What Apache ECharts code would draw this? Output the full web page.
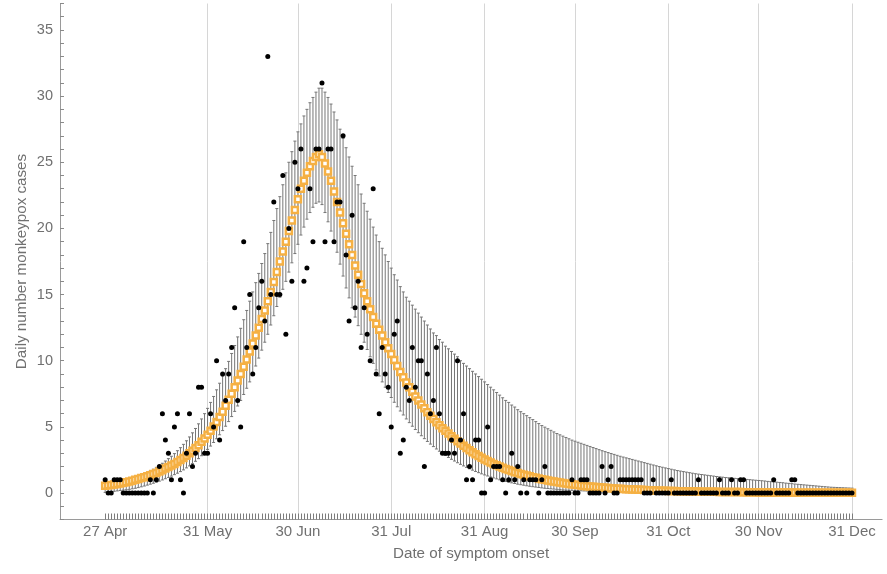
<!DOCTYPE html>
<html><head><meta charset="utf-8">
<script src="https://cdn.jsdelivr.net/npm/echarts@6/dist/echarts.min.js"></script>
<style>html,body{margin:0;padding:0;background:#fff}#c{width:887px;height:574px}</style>
</head><body><div id="c"></div>
<script>
// day 0 = 27 Apr 2022
const tickDays = [0, 34, 64, 95, 126, 156, 187, 217, 248];
const tickLabels = ['27 Apr', '31 May', '30 Jun', '31 Jul', '31 Aug', '30 Sep', '31 Oct', '30 Nov', '31 Dec'];
const gridDays = [34, 64, 95, 126, 156, 187, 217, 248];
const axisFirstDay = -15, axisLastDay = 258;

const observed = [
1,0,0,1,1,1,0,0,0,0,
0,0,0,0,0,1,0,1,2,6,
4,3,1,5,6,1,0,3,6,2,
3,8,8,3,3,6,5,10,4,9,
7,9,11,14,7,5,19,11,15,9,
11,14,16,13,33,15,22,15,15,24,
12,20,16,25,23,26,16,17,23,19,
26,26,31,19,26,26,19,22,22,27,
18,13,21,14,16,11,14,12,10,23,
9,6,11,9,8,5,12,13,3,4,
8,7,11,8,10,10,2,9,6,7,
11,6,3,3,3,4,3,10,4,6,
1,2,1,4,4,0,0,5,1,2,
2,2,1,0,1,3,1,2,0,1,
0,1,1,1,0,1,2,0,0,0,
0,0,0,0,0,1,0,0,1,1,
1,0,0,0,0,2,0,1,2,0,
0,1,1,1,1,1,1,1,1,0,
0,0,1,0,0,0,0,0,1,0,
0,0,0,0,0,0,0,1,0,0,
0,0,0,0,1,0,0,0,1,0,
0,1,1,0,0,0,0,0,0,0,
0,0,1,0,0,0,0,0,1,1,
0,0,0,0,0,0,0,0,0,0,
0,0,0,0,0,0,0,0,0
];

const fitted = [
0.55,0.58,0.61,0.65,0.69,0.73,0.77,0.82,0.87,0.93,
1.0,1.06,1.13,1.2,1.27,1.35,1.43,1.52,1.62,1.73,
1.85,1.96,2.08,2.2,2.34,2.5,2.65,2.82,3.0,3.2,
3.4,3.62,3.87,4.13,4.4,4.7,5.02,5.37,5.75,6.15,
6.6,7.05,7.5,8.0,8.5,9.0,9.55,10.1,10.7,11.3,
11.9,12.5,13.15,13.8,14.5,15.2,15.95,16.7,17.5,18.25,
19.0,19.8,20.6,21.4,22.2,23.0,23.6,24.2,24.7,25.1,
25.4,25.6,25.4,24.9,24.3,23.6,22.8,22.0,21.2,20.4,
19.6,18.8,18.0,17.2,16.5,15.8,15.1,14.5,13.9,13.3,
12.8,12.35,11.9,11.4,10.95,10.5,10.05,9.6,9.15,8.75,
8.35,8.0,7.65,7.3,7.0,6.7,6.4,6.1,5.85,5.6,
5.35,5.12,4.9,4.7,4.5,4.3,4.1,3.92,3.74,3.57,
3.4,3.24,3.08,2.94,2.8,2.66,2.54,2.42,2.3,2.2,
2.1,2.0,1.91,1.82,1.74,1.66,1.58,1.51,1.44,1.38,
1.32,1.26,1.2,1.15,1.1,1.05,1.0,0.95,0.91,0.87,
0.83,0.79,0.75,0.72,0.69,0.66,0.63,0.6,0.57,0.54,
0.52,0.5,0.48,0.46,0.44,0.42,0.4,0.38,0.36,0.35,
0.33,0.32,0.3,0.29,0.28,0.27,0.26,0.25,0.24,0.23,
0.22,0.21,0.2,0.19,0.18,0.17,0.17,0.16,0.15,0.15,
0.14,0.14,0.13,0.13,0.12,0.12,0.11,0.11,0.1,0.1,
0.1,0.09,0.09,0.09,0.08,0.08,0.08,0.08,0.07,0.07,
0.07,0.07,0.06,0.06,0.06,0.06,0.06,0.05,0.05,0.05,
0.05,0.05,0.05,0.04,0.04,0.04,0.04,0.04,0.04,0.04,
0.03,0.03,0.03,0.03,0.03,0.03,0.03,0.03,0.03,0.03,
0.03,0.03,0.03,0.03,0.02,0.02,0.02,0.02,0.02
];

const upperBound = [
0.75,0.78,0.82,0.86,0.9,0.95,1.0,1.05,1.1,1.16,
1.23,1.3,1.38,1.47,1.57,1.68,1.8,1.94,2.09,2.25,
2.42,2.6,2.78,2.98,3.2,3.43,3.68,3.95,4.24,4.55,
4.88,5.23,5.6,6.0,6.4,6.85,7.3,7.8,8.3,8.85,
9.4,9.95,10.55,11.15,11.8,12.45,13.1,13.8,14.5,15.2,
15.9,16.6,17.35,18.1,18.85,19.7,20.6,21.5,22.4,23.3,
24.2,25.0,25.8,26.6,27.3,27.9,28.5,29.0,29.5,29.9,
30.3,30.6,30.6,30.3,29.9,29.4,28.8,28.2,27.5,26.8,
26.1,25.4,24.7,24.0,23.3,22.6,21.9,21.3,20.7,20.1,
19.5,19.0,18.5,18.0,17.5,17.0,16.5,16.1,15.6,15.2,
14.8,14.5,14.2,13.9,13.6,13.3,13.0,12.7,12.4,12.1,
11.9,11.6,11.4,11.1,10.9,10.7,10.5,10.3,10.0,9.8,
9.6,9.4,9.2,9.0,8.8,8.6,8.4,8.2,8.0,7.8,
7.6,7.4,7.2,7.0,6.85,6.65,6.5,6.3,6.15,6.0,
5.85,5.7,5.55,5.4,5.25,5.1,4.98,4.86,4.74,4.62,
4.5,4.4,4.3,4.2,4.1,4.0,3.92,3.84,3.76,3.68,
3.6,3.52,3.44,3.36,3.28,3.2,3.13,3.06,2.99,2.92,
2.85,2.78,2.72,2.66,2.6,2.54,2.48,2.42,2.36,2.3,
2.24,2.18,2.12,2.06,2.0,1.95,1.9,1.85,1.8,1.75,
1.7,1.66,1.62,1.58,1.54,1.5,1.46,1.43,1.4,1.37,
1.34,1.31,1.28,1.25,1.22,1.2,1.17,1.15,1.13,1.11,
1.09,1.07,1.05,1.03,1.01,0.99,0.97,0.95,0.93,0.91,
0.88,0.86,0.84,0.82,0.8,0.78,0.75,0.73,0.71,0.68,
0.66,0.64,0.62,0.6,0.58,0.56,0.54,0.52,0.5,0.48,
0.46,0.44,0.43,0.42,0.41,0.4,0.39,0.38,0.37
];

const lowerBound = [
0.05,0.08,0.1,0.13,0.16,0.19,0.22,0.25,0.28,0.32,
0.36,0.41,0.47,0.53,0.6,0.67,0.74,0.82,0.9,0.99,
1.08,1.18,1.28,1.39,1.5,1.62,1.75,1.9,2.05,2.22,
2.4,2.6,2.82,3.05,3.3,3.55,3.82,4.1,4.4,4.72,
5.05,5.4,5.78,6.17,6.58,7.0,7.45,7.92,8.4,8.95,
9.6,10.2,10.8,11.4,12.0,12.7,13.4,14.1,14.8,15.4,
16.0,16.7,17.4,18.1,18.8,19.5,20.1,20.7,21.2,21.6,
21.9,22.0,21.8,21.2,20.5,19.8,19.0,18.2,17.3,16.4,
15.5,14.75,14.0,13.3,12.65,12.0,11.4,10.85,10.3,9.8,
9.3,8.85,8.4,8.0,7.6,7.22,6.86,6.52,6.2,5.9,
5.6,5.32,5.05,4.8,4.56,4.33,4.11,3.9,3.7,3.51,
3.33,3.16,3.0,2.84,2.69,2.55,2.42,2.29,2.17,2.05,
1.94,1.83,1.73,1.63,1.54,1.45,1.37,1.29,1.21,1.14,
1.07,1.0,0.94,0.88,0.82,0.77,0.72,0.67,0.63,0.59,
0.55,0.51,0.48,0.45,0.42,0.39,0.36,0.34,0.32,0.3,
0.28,0.26,0.24,0.22,0.21,0.2,0.19,0.18,0.17,0.16,
0.15,0.14,0.13,0.12,0.11,0.1,0.1,0.09,0.09,0.08,
0.08,0.07,0.07,0.06,0.06,0.05,0.05,0.05,0.04,0.04,
0.04,0.04,0.03,0.03,0.03,0.03,0.02,0.02,0.02,0.02,
0.01,0.01,0.01,0.01,0.01,0.01,0.01,0.01,0.01,0.01,
0.01,0.01,0.01,0.01,0.01,0.01,0.01,0.01,0.01,0.01,
0.01,0.01,0.01,0.01,0.01,0.01,0.01,0.01,0.01,0.01,
0,0,0,0,0,0,0,0,0,0,
0,0,0,0,0,0,0,0,0,0,
0,0,0,0,0,0,0,0,0
];

// category axis: one slot per day
const categories = [];
for (let d = axisFirstDay; d <= axisLastDay; d++) categories.push(String(d));
const off = -axisFirstDay;
const labelMap = {};
tickDays.forEach((d, i) => { labelMap[String(d)] = tickLabels[i]; });
const lastDataDay = observed.length - 1;

const barData = observed.map((_, d) => [d + off, lowerBound[d], upperBound[d]]);
const fitData = fitted.map((v, d) => [d + off, v]);
const obsData = observed.map((v, d) => [d + off, v]);

const FONT = 'Liberation Sans, Arial, sans-serif';
const chart = echarts.init(document.getElementById('c'), null, {renderer: 'canvas'});
chart.setOption({
  animation: false,
  backgroundColor: '#fff',
  grid: {left: 60, right: 4.9, top: 3.5, bottom: 54.5, containLabel: false},
  xAxis: {
    type: 'category', data: categories, boundaryGap: false,
    axisLine: {show: true, onZero: false, lineStyle: {color: '#9a9a9a', width: 1}},
    axisTick: {show: true, inside: true, length: 6,
      interval: (i) => { const d = i - off; return d >= 0 && d <= lastDataDay; },
      lineStyle: {color: '#7c7c7c', width: 1}},
    axisLabel: {show: true, interval: (i, v) => labelMap[v] !== undefined,
      formatter: (v) => labelMap[v] || '', color: '#707070', fontSize: 15, fontFamily: FONT, margin: 5},
    splitLine: {show: true, interval: (i) => gridDays.indexOf(i - off) >= 0,
      lineStyle: {color: '#d6d6d6', width: 1}},
    name: 'Date of symptom onset', nameLocation: 'middle', nameGap: 27, nameMoveOverlap: false,
    nameTextStyle: {color: '#707070', fontSize: 15.2, fontFamily: FONT}
  },
  yAxis: {
    type: 'value', min: -2, max: 37, interval: 1,
    axisLine: {show: true, lineStyle: {color: '#9a9a9a', width: 1}},
    axisTick: {show: true, inside: true, length: 4, lineStyle: {color: '#8a8a8a'}},
    axisLabel: {show: true, formatter: (v) => (v >= 0 && v % 5 === 0) ? String(v) : '',
      color: '#707070', fontSize: 14.5, fontFamily: FONT, margin: 7},
    splitLine: {show: false},
    name: 'Daily number monkeypox cases', nameLocation: 'middle', nameGap: 31, nameRotate: 90,
    nameMoveOverlap: false,
    nameTextStyle: {color: '#707070', fontSize: 15.2, fontFamily: FONT}
  },
  series: [
    {
      type: 'custom', z: 2, data: barData,
      encode: {x: 0, y: [1, 2]},
      renderItem: (params, api) => {
        const x = api.value(0), lo = api.value(1), hi = api.value(2);
        const p1 = api.coord([x, hi]), p2 = api.coord([x, lo]);
        const w = 1.5, st = {stroke: '#767676', lineWidth: 1};
        return {type: 'group', children: [
          {type: 'line', shape: {x1: p1[0], y1: p1[1], x2: p2[0], y2: p2[1]}, style: st},
          {type: 'line', shape: {x1: p1[0] - w, y1: p1[1], x2: p1[0] + w, y2: p1[1]}, style: st},
          {type: 'line', shape: {x1: p2[0] - w, y1: p2[1], x2: p2[0] + w, y2: p2[1]}, style: st}
        ]};
      }
    },
    {
      type: 'scatter', z: 3, data: fitData, symbol: 'rect', symbolSize: 6,
      itemStyle: {color: '#ffffff', borderColor: '#f5b043', borderWidth: 2.5, opacity: 1}
    },
    {
      type: 'scatter', z: 4, data: obsData, symbol: 'circle', symbolSize: 5,
      itemStyle: {color: '#000000', opacity: 1}
    }
  ]
});
</script></body></html>
